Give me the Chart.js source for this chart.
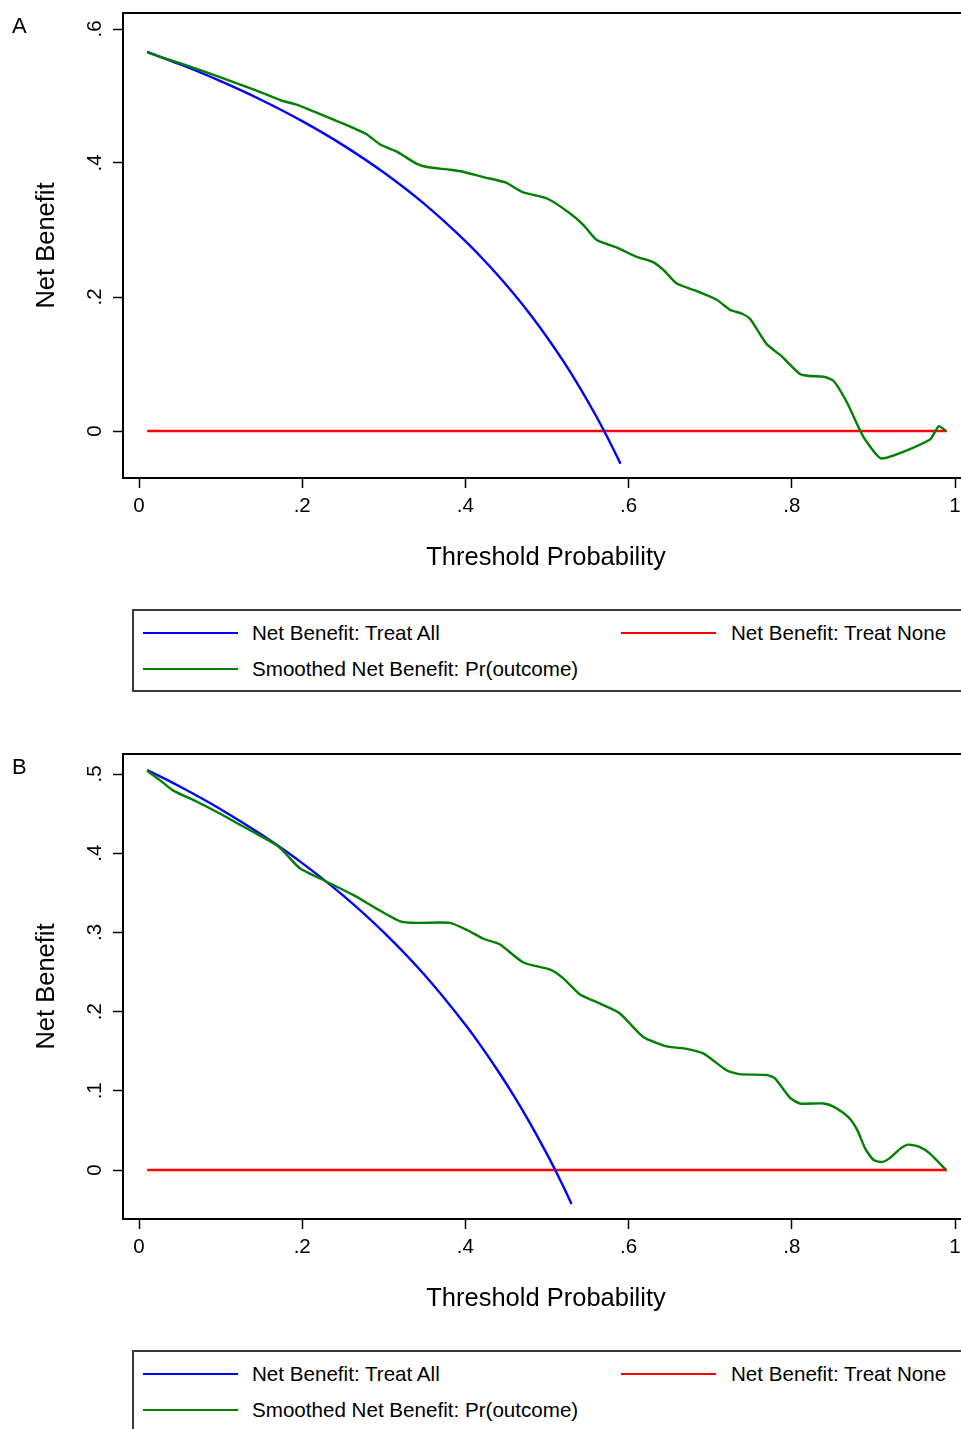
<!DOCTYPE html>
<html>
<head>
<meta charset="utf-8">
<script src="https://cdn.jsdelivr.net/npm/chart.js@4.4.1/dist/chart.umd.min.js"></script>
<style>
html,body{margin:0;padding:0;background:#fff;overflow:hidden;}
#page{position:relative;width:961px;height:1429px;overflow:hidden;font-family:'Liberation Sans',Arial,Helvetica,sans-serif;color:#000;background:#fff;}
canvas{position:absolute;left:0;}
.letter{position:absolute;left:12px;font-size:22px;line-height:22px;}
.legend{position:absolute;left:132px;width:860px;height:83px;border:2px solid #3a3a3a;box-sizing:border-box;}
.lgline{position:absolute;height:2px;}
.lgtext{position:absolute;font-size:20.6px;line-height:24px;white-space:nowrap;}
</style>
</head>
<body>
<div id="page">
  <canvas id="chartA" width="969" height="573" style="top:0px"></canvas>
  <canvas id="chartB" width="969" height="573" style="top:741px"></canvas>
</div>
<script>
// ---------- data ----------
const panelLetters = ['A', 'B'];
const seriesNames = ['Net Benefit: Treat All', 'Net Benefit: Treat None', 'Smoothed Net Benefit: Pr(outcome)'];
const seriesColors = ['#0000ff', '#ff0000', '#008000'];
const xTitle = 'Threshold Probability';
const yTitle = 'Net Benefit';

const xTickValues = [0, 0.2, 0.4, 0.6, 0.8, 1];
const xTickLabels = ['0', '.2', '.4', '.6', '.8', '1'];
const yTickValuesA = [0, 0.2, 0.4, 0.6];
const yTickLabelsA = ['0', '.2', '.4', '.6'];
const yTickValuesB = [0, 0.1, 0.2, 0.3, 0.4, 0.5];
const yTickLabelsB = ['0', '.1', '.2', '.3', '.4', '.5'];

// Panel A
const treatAllThrA = [0.01, 0.05, 0.10, 0.15, 0.20, 0.25, 0.30, 0.35, 0.40, 0.42, 0.44, 0.46, 0.48, 0.50, 0.52, 0.54, 0.56, 0.57, 0.58, 0.59];
const treatAllNBA  = [0.5657, 0.5474, 0.5222, 0.4941, 0.4625, 0.4267, 0.3857, 0.3385, 0.2833, 0.2586, 0.2321, 0.2037, 0.1731, 0.1400, 0.1042, 0.0652, 0.0227, 0.0000, -0.0238, -0.0488];
const treatNoneThr = [0.01, 0.99];
const treatNoneNB  = [0, 0];
const smoothThrA = [0.010, 0.050, 0.095, 0.140, 0.173, 0.193, 0.214, 0.242, 0.263, 0.279, 0.295, 0.316, 0.340, 0.353, 0.381, 0.397, 0.422, 0.449, 0.471, 0.500, 0.528, 0.545, 0.561, 0.585, 0.610, 0.630, 0.643, 0.659, 0.683, 0.708, 0.724, 0.739, 0.749, 0.769, 0.788, 0.810, 0.822, 0.839, 0.851, 0.867, 0.884, 0.890, 0.910, 0.969, 0.980, 0.989];
const smoothNBA  = [0.565, 0.549, 0.530, 0.510, 0.494, 0.487, 0.477, 0.463, 0.452, 0.443, 0.428, 0.417, 0.399, 0.394, 0.390, 0.387, 0.379, 0.371, 0.356, 0.347, 0.325, 0.307, 0.285, 0.274, 0.260, 0.252, 0.240, 0.220, 0.209, 0.196, 0.181, 0.175, 0.167, 0.130, 0.111, 0.085, 0.082, 0.081, 0.075, 0.044, 0.000, -0.013, -0.041, -0.013, 0.007, 0.000];

// Panel B
const treatAllThrB = [0.01, 0.05, 0.10, 0.15, 0.20, 0.25, 0.30, 0.35, 0.40, 0.42, 0.44, 0.46, 0.48, 0.50, 0.51, 0.52, 0.53];
const treatAllNBB  = [0.5051, 0.4842, 0.4556, 0.4235, 0.3875, 0.3467, 0.3000, 0.2462, 0.1833, 0.1552, 0.1250, 0.0926, 0.0577, 0.0200, 0.0000, -0.0208, -0.0428];
const smoothThrB = [0.010, 0.026, 0.042, 0.071, 0.103, 0.136, 0.169, 0.181, 0.197, 0.230, 0.263, 0.291, 0.320, 0.340, 0.381, 0.402, 0.422, 0.442, 0.471, 0.504, 0.520, 0.540, 0.565, 0.589, 0.618, 0.647, 0.671, 0.692, 0.720, 0.736, 0.769, 0.779, 0.798, 0.810, 0.839, 0.851, 0.869, 0.880, 0.890, 0.900, 0.910, 0.920, 0.933, 0.943, 0.957, 0.969, 0.989];
const smoothNBB  = [0.504, 0.492, 0.479, 0.465, 0.448, 0.429, 0.410, 0.398, 0.381, 0.364, 0.347, 0.330, 0.314, 0.312, 0.312, 0.303, 0.292, 0.285, 0.262, 0.253, 0.242, 0.222, 0.210, 0.198, 0.168, 0.156, 0.153, 0.147, 0.126, 0.121, 0.120, 0.116, 0.091, 0.084, 0.084, 0.080, 0.067, 0.051, 0.027, 0.013, 0.010, 0.015, 0.027, 0.032, 0.029, 0.021, 0.000];

// ---------- rendering ----------
const FONT = "'Liberation Sans', Arial, Helvetica, sans-serif";
Chart.defaults.font.family = FONT;
Chart.defaults.color = '#000';

const framePlugin = {
  id: 'frame',
  afterDraw(chart) {
    const {ctx, chartArea: a} = chart;
    ctx.save();
    ctx.strokeStyle = '#000';
    ctx.lineWidth = 2;
    ctx.beginPath();
    ctx.moveTo(a.left - 1, a.top);
    ctx.lineTo(a.right, a.top);
    ctx.lineTo(a.right, a.bottom);
    ctx.stroke();
    ctx.restore();
  }
};

function pts(xs, ys) { return xs.map((x, i) => ({x: x, y: ys[i]})); }

function buildChart(id, allX, allY, smX, smY, yMin, yMax, yVals, yLbls) {
  new Chart(document.getElementById(id), {
    type: 'line',
    data: {
      datasets: [
        {label: seriesNames[0], data: pts(allX, allY), borderColor: seriesColors[0], borderWidth: 2.4, pointRadius: 0, cubicInterpolationMode: 'monotone', order: 1},
        {label: seriesNames[1], data: pts(treatNoneThr, treatNoneNB), borderColor: seriesColors[1], borderWidth: 2.4, pointRadius: 0, order: 2},
        {label: seriesNames[2], data: pts(smX, smY), borderColor: seriesColors[2], borderWidth: 2.4, pointRadius: 0, tension: 0.2, order: 0}
      ]
    },
    options: {
      responsive: false,
      animation: false,
      events: [],
      layout: {padding: {top: 13, left: 0, right: 0, bottom: 0}},
      plugins: {legend: {display: false}, tooltip: {enabled: false}},
      scales: {
        x: {
          type: 'linear',
          min: (123 - 139) / 816,
          max: (969 - 139) / 816,
          afterBuildTicks: s => { s.ticks = xTickValues.map(v => ({value: v})); },
          afterFit: s => { s.height = 95; s.paddingLeft = 0; s.paddingRight = 0; },
          ticks: {callback: (v, i) => xTickLabels[i], font: {size: 20.5}, padding: 6, minRotation: 0, maxRotation: 0, autoSkip: false, color: '#000'},
          grid: {drawOnChartArea: false, drawTicks: true, tickLength: 10, tickWidth: 1.5, tickColor: '#000'},
          border: {display: true, color: '#000', width: 2},
          title: {display: true, text: xTitle, font: {size: 25.5}, padding: {top: 0, bottom: 0}, color: '#000'}
        },
        y: {
          type: 'linear',
          min: yMin,
          max: yMax,
          afterBuildTicks: s => { s.ticks = yVals.map(v => ({value: v})); },
          afterFit: s => { s.width = 123; s.paddingTop = 0; s.paddingBottom = 0; },
          ticks: {callback: (v, i) => yLbls[i], font: {size: 20.5}, padding: 9, minRotation: 90, maxRotation: 90, crossAlign: 'center', autoSkip: false, color: '#000'},
          grid: {drawOnChartArea: false, drawTicks: true, tickLength: 10, tickWidth: 1.5, tickColor: '#000'},
          border: {display: true, color: '#000', width: 2},
          title: {display: true, text: yTitle, font: {size: 25.5}, padding: {top: 32, bottom: 0}, color: '#000'}
        }
      }
    },
    plugins: [framePlugin]
  });
}

buildChart('chartA', treatAllThrA, treatAllNBA, smoothThrA, smoothNBA,
  -(478 - 431) / 670, (431 - 13) / 670, yTickValuesA, yTickLabelsA);
buildChart('chartB', treatAllThrB, treatAllNBB, smoothThrB, smoothNBB,
  -(1219 - 1170) / 792, (1170 - 754) / 792, yTickValuesB, yTickLabelsB);

// panel letters and legends (HTML text)
const page = document.getElementById('page');
[0, 741].forEach((off, p) => {
  const L = document.createElement('div');
  L.className = 'letter';
  L.style.top = (15 + off) + 'px';
  L.textContent = panelLetters[p];
  page.appendChild(L);

  const box = document.createElement('div');
  box.className = 'legend';
  box.style.top = (609 + off) + 'px';
  page.appendChild(box);

  const items = [
    {s: 0, lx: 143, tx: 252, cy: 633},
    {s: 1, lx: 621, tx: 731, cy: 633},
    {s: 2, lx: 143, tx: 252, cy: 669}
  ];
  items.forEach(it => {
    const ln = document.createElement('div');
    ln.className = 'lgline';
    ln.style.left = it.lx + 'px';
    ln.style.width = '95px';
    ln.style.top = (it.cy - 1 + off) + 'px';
    ln.style.background = seriesColors[it.s];
    page.appendChild(ln);
    const tx = document.createElement('div');
    tx.className = 'lgtext';
    tx.style.left = it.tx + 'px';
    tx.style.top = (it.cy - 12 + off) + 'px';
    tx.textContent = seriesNames[it.s];
    page.appendChild(tx);
  });
});
</script>
</body>
</html>
